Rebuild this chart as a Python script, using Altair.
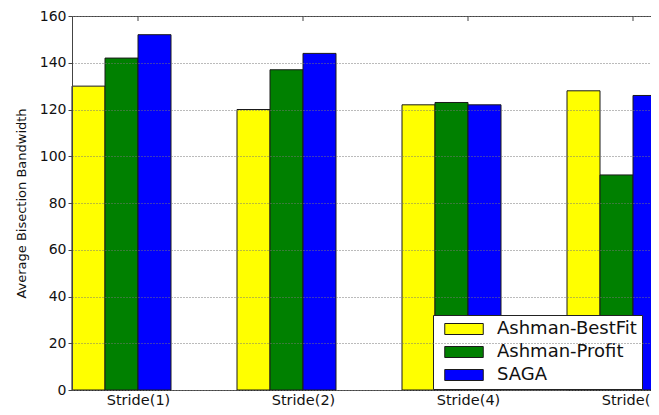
import altair as alt
import pandas as pd

# ---- data ----
strides = ["Stride(1)", "Stride(2)", "Stride(4)", "Stride(8)"]
series = ["Ashman-BestFit", "Ashman-Profit", "SAGA"]
colors = ["#ffff00", "#008000", "#0000ff"]
bestfit = [130, 120, 122, 128]
profit = [142, 137, 123, 92]
saga = [152, 144, 122, 126]
y_ticks = [0, 20, 40, 60, 80, 100, 120, 140, 160]

BAR = 0.2  # bar width in group units (matplotlib style)

rows = []
for gi, s in enumerate(strides):
    for si, (name, vals) in enumerate(zip(series, [bestfit, profit, saga])):
        rows.append({"stride": s, "g": gi, "s": si, "series": name, "value": vals[gi]})
df = pd.DataFrame(rows)
centers = pd.DataFrame({"stride": strides, "g": list(range(len(strides)))})

# matplotlib placed the tick of each group at g + 2*BAR (left edge of the 3rd bar)
TICK_OFF = 2 * BAR
center_vals = [g + TICK_OFF for g in range(len(strides))]
label_expr = "[" + ",".join(f"'{s}'" for s in strides) + f"][round(datum.value - {TICK_OFF})]"

FONT = "DejaVu Sans"
AX = "#444444"
TXT = "#111111"

W = 579
H = 374
xscale = alt.Scale(domain=[0, W / 165.0], nice=False, zero=False)

bars = (
    alt.Chart(df)
    .transform_calculate(
        x0=f"datum.g + datum.s * {BAR}", x1=f"datum.g + (datum.s + 1) * {BAR}"
    )
    .mark_bar(stroke="#1a1a1a", strokeWidth=1)
    .encode(
        x=alt.X(
            "x0:Q",
            scale=xscale,
            axis=alt.Axis(
                values=center_vals,
                labelExpr=label_expr,
                ticks=False,
                grid=False,
                title=None,
                domainColor=AX,
                labelFontSize=14.5,
                labelColor=TXT,
                labelPadding=3,
                labelFlush=False,
                labelOverlap=False,
            ),
        ),
        x2="x1:Q",
        y=alt.Y(
            "value:Q",
            scale=alt.Scale(domain=[0, 160], nice=False),
            axis=alt.Axis(
                values=y_ticks,
                tickSize=4,
                tickColor=AX,
                domainColor=AX,
                labelFontSize=14,
                labelColor=TXT,
                labelPadding=2,
                labelFlush=False,
                labelOverlap=False,
                title="Average Bisection Bandwidth",
                titleFontSize=13,
                titleFontWeight="normal",
                titleColor=TXT,
                titlePadding=11,
                grid=True,
                gridColor="#777777",
                gridDash=[1, 2],
                gridWidth=1,
                zindex=1,
            ),
        ),
        y2=alt.datum(0),
        color=alt.Color(
            "series:N",
            scale=alt.Scale(domain=series, range=colors),
            legend=alt.Legend(
                title=None,
                orient="none",
                legendX=361,
                legendY=299,
                direction="vertical",
                symbolType="M-3.5,-1H3.5V1H-3.5Z",
                symbolSize=121,
                symbolStrokeColor="#1a1a1a",
                symbolStrokeWidth=1,
                symbolOffset=17,
                labelOffset=24,
                labelFontSize=18,
                labelFont=FONT,
                labelColor=TXT,
                labelLimit=400,
                padding=5,
                rowPadding=5,
                strokeColor="#222222",
                fillColor="white",
                cornerRadius=0,
            ),
        ),
    )
)

top_ticks = (
    alt.Chart(centers)
    .transform_calculate(xc=f"datum.g + {TICK_OFF}")
    .mark_rule(color=AX, strokeWidth=1)
    .encode(
        x=alt.X(
            "xc:Q",
            scale=xscale,
            axis=alt.Axis(
                orient="top", labels=False, ticks=False, grid=False, title=None, domainColor=AX
            ),
        ),
        y=alt.value(0),
        y2=alt.value(5),
    )
)

chart = (
    alt.layer(bars, top_ticks)
    .resolve_axis(x="independent")
    .properties(
        width=W,
        height=H,
        autosize=alt.AutoSizeParams(type="none"),
        padding={"left": 64, "top": 8, "right": 0, "bottom": 17},
        background="white",
    )
    .configure_view(stroke=None)
    .configure(font=FONT)
)

chart.save("out.html", embed_options={"renderer": "svg", "actions": False})
